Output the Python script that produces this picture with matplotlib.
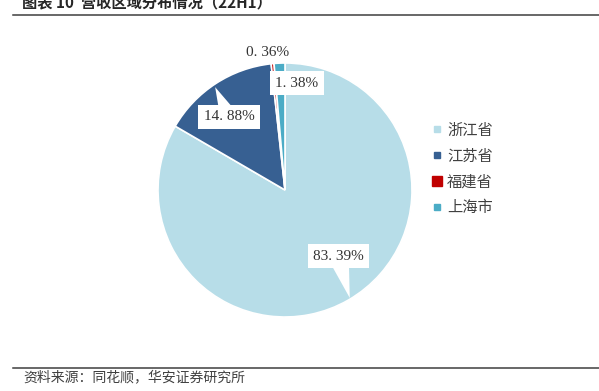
import matplotlib
matplotlib.use("Agg")
import matplotlib.pyplot as plt
from matplotlib.lines import Line2D

plt.rcParams['font.family'] = ['Noto Sans CJK SC', 'DejaVu Sans']

regions = ['浙江省', '江苏省', '福建省', '上海市']
shares = [83.39, 14.88, 0.36, 1.38]
colors = ['#B7DDE8', '#376092', '#C00000', '#4BACC6']
label_text = ['83. 39%', '14. 88%', '0. 36%', '1. 38%']

title = '图表 10  营收区域分布情况（22H1）'
source = '资料来源：同花顺，华安证券研究所'

W, H = 599, 391
fig = plt.figure(figsize=(W / 100, H / 100), dpi=100)

# pie centred at (285, 190) px, radius 127 px
cx, cy, r = 285, 190, 127
ax = fig.add_axes([(cx - r) / W, (H - cy - r) / H, 2 * r / W, 2 * r / H])
ax.axis('off')

ax.pie(shares, colors=colors, startangle=90, counterclock=False,
       radius=1, center=(0, 0), frame=False,
       wedgeprops=dict(edgecolor='white', linewidth=1.2))
ax.set_xlim(-1, 1)
ax.set_ylim(-1, 1)
ax.set_aspect('auto')

lab_font = dict(family=['Liberation Serif', 'DejaVu Serif'], size=11,
                color='#333333')
box = dict(boxstyle='square,pad=0.35', fc='white', ec='none')

# callout labels (text centre, pointer tip) in pie units
ax.annotate(label_text[0], xy=(0.51, -0.85), xytext=(0.42, -0.52),
            ha='center', va='center', bbox=box, annotation_clip=False,
            arrowprops=dict(arrowstyle='wedge,tail_width=1.4', fc='white',
                            ec='none', shrinkA=0, shrinkB=0, patchA=None),
            **lab_font)
ax.annotate(label_text[1], xy=(-0.55, 0.81), xytext=(-0.44, 0.575),
            ha='center', va='center', bbox=box, annotation_clip=False,
            arrowprops=dict(arrowstyle='wedge,tail_width=1.2', fc='white',
                            ec='none', shrinkA=0, shrinkB=0, patchA=None),
            **lab_font)
ax.text(-0.134, 1.08, label_text[2], ha='center', va='center',
        clip_on=False, **lab_font)
ax.text(0.094, 0.84, label_text[3], ha='center', va='center', bbox=box,
        clip_on=False, **lab_font)

handles = [Line2D([], [], ls='', marker='s', markersize=ms, color=c,
                  markeredgecolor=c)
           for c, ms in zip(colors, [4.5, 4.5, 7, 4.5])]
fig.legend(handles, regions, loc='upper left',
           bbox_to_anchor=(419 / W, 1 - 108 / H), frameon=False,
           handlelength=0.6, handletextpad=0.35, labelspacing=0.58,
           prop=dict(size=11), labelcolor='#404040')

# header / footer rules
fig.add_artist(Line2D([13 / W, 1], [1 - 15 / H, 1 - 15 / H],
                      color='#3f3f3f', lw=1.1))
fig.add_artist(Line2D([13 / W, 1], [1 - 368 / H, 1 - 368 / H],
                      color='#3f3f3f', lw=1.1))

fig.text(22 / W, 1 - 7 / H, title, ha='left', va='baseline',
         fontsize=11, fontweight='bold', color='#262626')
fig.text(23 / W, 1 - 377 / H, source, ha='left', va='center',
         fontsize=10, color='#404040')

fig.savefig('out.png', dpi=100)
